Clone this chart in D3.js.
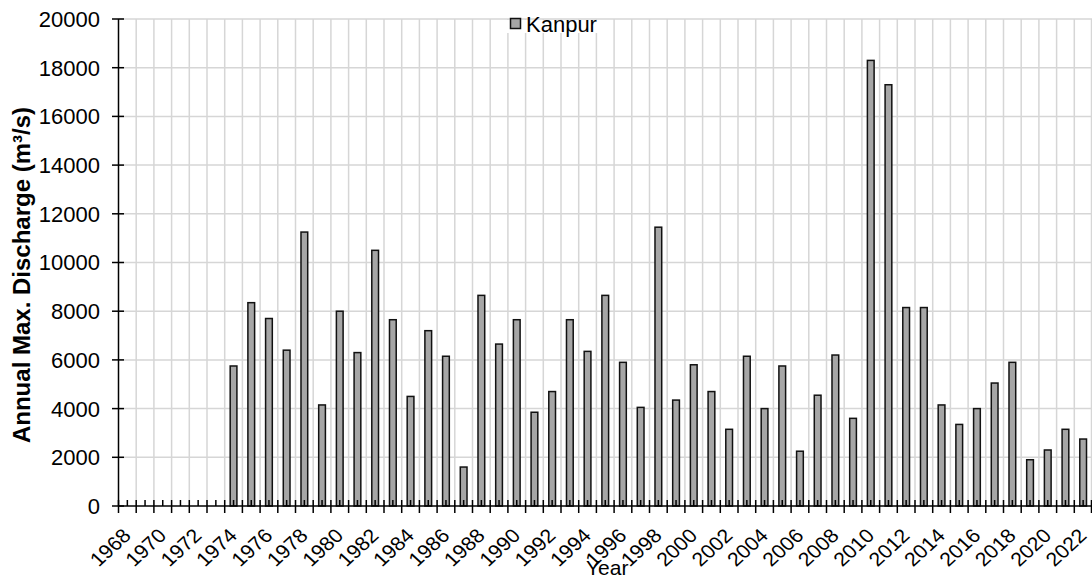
<!DOCTYPE html>
<html>
<head>
<meta charset="utf-8">
<script src="https://cdn.jsdelivr.net/npm/d3@7"></script>
<style>
  body { margin: 0; background: #fff; }
  text { font-family: "Liberation Sans", Arial, sans-serif; fill: #000; }
</style>
</head>
<body>
<svg id="chart" width="1092" height="579"></svg>
<script>
// categories (one per year) and annual max discharge for Kanpur, m3/s
var years = [1968, 1969, 1970, 1971, 1972, 1973, 1974, 1975, 1976, 1977,
             1978, 1979, 1980, 1981, 1982, 1983, 1984, 1985, 1986, 1987,
             1988, 1989, 1990, 1991, 1992, 1993, 1994, 1995, 1996, 1997,
             1998, 1999, 2000, 2001, 2002, 2003, 2004, 2005, 2006, 2007,
             2008, 2009, 2010, 2011, 2012, 2013, 2014, 2015, 2016, 2017,
             2018, 2019, 2020, 2021, 2022];
var kanpur = [null, null, null, null, null, null, 5750, 8350, 7700, 6400,
              11250, 4150, 8000, 6300, 10500, 7650, 4500, 7200, 6150, 1600,
              8650, 6650, 7650, 3850, 4700, 7650, 6350, 8650, 5900, 4050,
              11450, 4350, 5800, 4700, 3150, 6150, 4000, 5750, 2250, 4550,
              6200, 3600, 18300, 17300, 8150, 8150, 4150, 3350, 4000, 5050,
              5900, 1900, 2300, 3150, 2750];
var yTicks = [0, 2000, 4000, 6000, 8000, 10000, 12000, 14000, 16000, 18000, 20000];
var seriesName = "Kanpur";

var svg = d3.select("#chart"),
    plotLeft = 118.5,
    plotRight = 1092,
    plotTop = 19,
    plotBottom = 506;

var x = d3.scaleBand()
    .domain(years)
    .range([plotLeft, plotRight])
    .paddingInner(0.62)
    .paddingOuter(0.31);
var y = d3.scaleLinear()
    .domain([0, 20000])
    .range([plotBottom, plotTop]);

var gap = (x.step() - x.bandwidth()) / 2;
function edge(yr) { return x(yr) - gap; }
function mid(yr) { return x(yr) + x.bandwidth() / 2; }

// grid
var grid = svg.append("g").attr("stroke", "#d6d6d6").attr("stroke-width", 1.5);
var edges = years.map(edge).concat([plotRight - 0.5]);
grid.selectAll(".v").data(edges.slice(1)).enter().append("line")
    .attr("x1", function (d) { return d; }).attr("x2", function (d) { return d; })
    .attr("y1", plotTop).attr("y2", plotBottom);
grid.selectAll(".h").data(yTicks.slice(1)).enter().append("line")
    .attr("x1", plotLeft).attr("x2", plotRight)
    .attr("y1", function (d) { return y(d); }).attr("y2", function (d) { return y(d); });

// bars
var data = years.map(function (yr, i) { return {year: yr, v: kanpur[i]}; })
    .filter(function (d) { return d.v != null; });
svg.append("g").selectAll("rect").data(data).enter().append("rect")
    .attr("x", function (d) { return x(d.year); })
    .attr("width", x.bandwidth())
    .attr("y", function (d) { return y(d.v); })
    .attr("height", function (d) { return y(0) - y(d.v); })
    .attr("fill", "#a6a6a6")
    .attr("stroke", "#111")
    .attr("stroke-width", 1.5);

// legend (drawn over grid, under axes)
var lg = svg.append("g");
lg.append("rect").attr("x", 507).attr("y", 20).attr("width", 91).attr("height", 13).attr("fill", "#fff");
lg.append("rect").attr("x", 510.5).attr("y", 18.5).attr("width", 10).attr("height", 10)
    .attr("fill", "#a6a6a6").attr("stroke", "#111").attr("stroke-width", 1.5);
lg.append("text").attr("x", 526).attr("y", 31.5).style("font-size", "22px").text(seriesName);

// y axis
var ax = svg.append("g").attr("stroke", "#000").attr("stroke-width", 1.5);
ax.append("line").attr("x1", plotLeft).attr("x2", plotLeft).attr("y1", plotTop).attr("y2", plotBottom);
ax.selectAll(".yt").data(yTicks).enter().append("line")
    .attr("x1", plotLeft - 6.5).attr("x2", plotLeft + 5.5)
    .attr("y1", function (d) { return y(d); }).attr("y2", function (d) { return y(d); });
svg.append("g").selectAll("text").data(yTicks).enter().append("text")
    .attr("x", 100)
    .attr("y", function (d) { return y(d); })
    .attr("dy", "0.36em")
    .attr("text-anchor", "end")
    .style("font-size", "22px")
    .text(function (d) { return d; });

// x axis
ax.append("line").attr("x1", plotLeft).attr("x2", plotRight).attr("y1", plotBottom).attr("y2", plotBottom);
ax.selectAll(".xt").data(edges).enter().append("line")
    .attr("x1", function (d) { return d; }).attr("x2", function (d) { return d; })
    .attr("y1", plotBottom - 6).attr("y2", plotBottom + 7);
ax.selectAll(".xm").data(years).enter().append("line")
    .attr("x1", function (d) { return mid(d); }).attr("x2", function (d) { return mid(d); })
    .attr("y1", plotBottom - 6).attr("y2", plotBottom);
var labelYears = years.filter(function (d) { return d % 2 === 0; });
svg.append("g").selectAll("text").data(labelYears).enter().append("text")
    .attr("transform", function (d) {
        return "translate(" + (mid(d) - 6) + "," + (plotBottom + 21) + ") scale(1.09,1) rotate(-45)";
    })
    .attr("text-anchor", "end")
    .attr("dy", "0.72em")
    .style("font-size", "19.5px")
    .text(function (d) { return d; });

// axis titles
svg.append("text")
    .attr("x", (plotLeft + plotRight) / 2 + 2)
    .attr("y", 575)
    .attr("text-anchor", "middle")
    .style("font-size", "21px")
    .text("Year");
svg.append("text")
    .attr("transform", "translate(30,275) rotate(-90)")
    .attr("text-anchor", "middle")
    .style("font-size", "24px")
    .style("font-weight", "bold")
    .text("Annual Max. Discharge (m³/s)");
</script>
</body>
</html>
